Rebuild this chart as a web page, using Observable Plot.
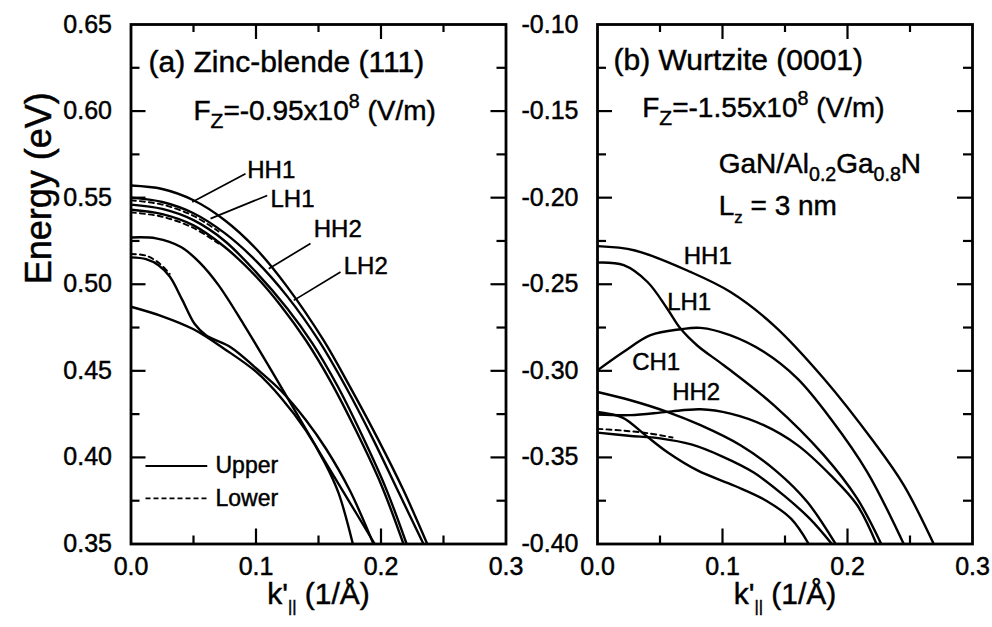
<!DOCTYPE html>
<html>
<head>
<meta charset="utf-8">
<script src="https://cdn.jsdelivr.net/npm/d3@7"></script>
<script src="https://cdn.jsdelivr.net/npm/@observablehq/plot@0.6"></script>
<style>
  html, body { margin: 0; padding: 0; background: #fff; }
  #chart { position: relative; width: 992px; height: 627px; overflow: hidden; }
  #chart svg { position: absolute; top: 0; overflow: visible; background: transparent; }
  /* slightly heavier glyphs, like a printed figure */
  #chart svg text { stroke: black; stroke-width: 0.45px; }
</style>
</head>
<body>
<div id="chart"></div>
<script>
// ---- Valence subband dispersions, [k'|| (1/Å), energy (eV)] ----

// (a) zinc-blende (111), Fz = -0.95e8 V/m
const zbHH1 = [[0,0.557],[0.025,0.555],[0.05,0.5485],[0.075,0.537],[0.1,0.5205],[0.125,0.4985],[0.154,0.4677],[0.175,0.441],[0.198,0.41],[0.218,0.381],[0.237,0.35]];
const zbLH1 = [[0,0.550],[0.025,0.5475],[0.05,0.541],[0.075,0.5295],[0.1,0.5135],[0.125,0.493],[0.15,0.4677],[0.172,0.4405],[0.194,0.41],[0.214,0.38],[0.234,0.35]];
const zbHH2 = [[0,0.546],[0.025,0.5435],[0.05,0.537],[0.075,0.525],[0.1,0.507],[0.125,0.486],[0.145,0.466],[0.165,0.4415],[0.185,0.4125],[0.204,0.382],[0.2205,0.35]];
const zbLH2 = [[0,0.543],[0.025,0.5405],[0.05,0.534],[0.075,0.5215],[0.1,0.5045],[0.12,0.4875],[0.14,0.4675],[0.16,0.4435],[0.18,0.4155],[0.2,0.3845],[0.218,0.35]];
const zbBand5 = [[0,0.527],[0.02,0.5265],[0.04,0.5215],[0.055,0.5125],[0.07,0.4995],[0.09,0.477],[0.11,0.453],[0.13,0.4285],[0.15,0.404],[0.17,0.38],[0.195,0.35]];
const zbBand6 = [[0,0.5155],[0.012,0.5145],[0.022,0.511],[0.031,0.5045],[0.041,0.491],[0.051,0.477],[0.06,0.4705],[0.08,0.4635],[0.1,0.4515],[0.12,0.4385],[0.14,0.4215],[0.156,0.405],[0.175,0.381],[0.194,0.35]];
const zbBand7 = [[0,0.487],[0.025,0.4815],[0.05,0.474],[0.075,0.4625],[0.1,0.4495],[0.12,0.4345],[0.14,0.4155],[0.155,0.397],[0.166,0.3795],[0.1775,0.35]];
const zbLower1 = [[0,0.5485],[0.025,0.546],[0.05,0.5395],[0.07,0.5305]];
const zbLower2 = [[0,0.5415],[0.025,0.539],[0.05,0.5325],[0.07,0.5235]];
const zbLower3 = [[0,0.5175],[0.012,0.5165],[0.022,0.5125],[0.031,0.506]];

// (b) wurtzite (0001), Fz = -1.55e8 V/m
const wzHH1 = [[0,-0.228],[0.03,-0.2305],[0.0744,-0.2429],[0.1064,-0.2545],[0.141,-0.2737],[0.181,-0.3044],[0.221,-0.341],[0.245,-0.366],[0.269,-0.40]];
const wzLH1 = [[0,-0.2375],[0.021,-0.239],[0.04,-0.2487],[0.0557,-0.264],[0.0664,-0.2756],[0.08,-0.2855],[0.101,-0.2968],[0.141,-0.3198],[0.181,-0.3487],[0.2077,-0.3737],[0.227,-0.40]];
const wzCH1 = [[0,-0.2997],[0.021,-0.289],[0.0424,-0.2794],[0.0664,-0.276],[0.0824,-0.2752],[0.106,-0.2794],[0.133,-0.289],[0.16,-0.3045],[0.1864,-0.3275],[0.2157,-0.3583],[0.245,-0.40]];
const wzHH2 = [[0,-0.3252],[0.0264,-0.3256],[0.0557,-0.3237],[0.0824,-0.3222],[0.1064,-0.3247],[0.133,-0.3314],[0.16,-0.3429],[0.1864,-0.3602],[0.2077,-0.3775],[0.2232,-0.40]];
const wzBand5 = [[0,-0.3122],[0.0264,-0.317],[0.0557,-0.3237],[0.0824,-0.3314],[0.1144,-0.343],[0.1437,-0.3583],[0.1677,-0.3756],[0.1905,-0.40]];
const wzBand6 = [[0,-0.3237],[0.02,-0.327],[0.038,-0.337],[0.056,-0.347],[0.08,-0.3575],[0.11,-0.3665],[0.135,-0.375],[0.155,-0.3855],[0.169,-0.40]];
const wzBand7 = [[0,-0.3357],[0.025,-0.3375],[0.05,-0.339],[0.075,-0.3425],[0.1,-0.3495],[0.125,-0.3587],[0.15,-0.3725],[0.17,-0.3855],[0.1875,-0.40]];
const wzLower1 = [[0,-0.3335],[0.02,-0.3345],[0.04,-0.336],[0.06,-0.3385]];

// ---- Axes ----
const kDomain = [0, 0.3];
const kTicks = [0, 0.05, 0.1, 0.15, 0.2, 0.25, 0.3];
const kTickLabels = [0, 0.1, 0.2, 0.3];
const zbDomain = [0.35, 0.65];
const zbTicks = [0.35, 0.375, 0.4, 0.425, 0.45, 0.475, 0.5, 0.525, 0.55, 0.575, 0.6, 0.625, 0.65];
const zbTickLabels = [0.35, 0.4, 0.45, 0.5, 0.55, 0.6, 0.65];
const wzDomain = [-0.4, -0.1];
const wzTicks = [-0.4, -0.375, -0.35, -0.325, -0.3, -0.275, -0.25, -0.225, -0.2, -0.175, -0.15, -0.125, -0.1];
const wzTickLabels = [-0.4, -0.35, -0.3, -0.25, -0.2, -0.15, -0.1];

// ---- Annotations (segments: [text, "sub"|"sup", relative size]) ----
const xTitleSegs = [["k'"], ["||", "sub", 0.55], [" (1/Å)"]];
const yTitle = "Energy (eV)";
const zbNotes = [
  {k: 0.014, E: 0.628, size: 30, segs: [["(a) Zinc-blende (111)"]]},
  {k: 0.05, E: 0.5998, size: 28, segs: [["F"], ["Z", "sub", 0.75], ["=-0.95x10"], ["8", "sup", 0.7], [" (V/m)"]]}
];
const wzNotes = [
  {k: 0.0128, E: -0.121, size: 30, segs: [["(b) Wurtzite (0001)"]]},
  {k: 0.0358, E: -0.1483, size: 28, segs: [["F"], ["Z", "sub", 0.75], ["=-1.55x10"], ["8", "sup", 0.7], [" (V/m)"]]},
  {k: 0.097, E: -0.1808, size: 28, segs: [["GaN/Al"], ["0.2", "sub", 0.7], ["Ga"], ["0.8", "sub", 0.7], ["N"]]},
  {k: 0.097, E: -0.205, size: 28, segs: [["L"], ["z", "sub", 0.6], [" = 3 nm"]]}
];
const zbBandLabels = [
  {name: "HH1", k: 0.093, E: 0.5656},
  {name: "LH1", k: 0.1116, E: 0.549},
  {name: "HH2", k: 0.1462, E: 0.5317},
  {name: "LH2", k: 0.1702, E: 0.5106}
];
const zbLeaders = [
  {k1: 0.0916, E1: 0.5638, k2: 0.049, E2: 0.5475},
  {k1: 0.109, E1: 0.5513, k2: 0.0636, E2: 0.5379},
  {k1: 0.1436, E1: 0.5235, k2: 0.1102, E2: 0.509},
  {k1: 0.1676, E1: 0.5071, k2: 0.1302, E2: 0.4907}
];
const wzBandLabels = [
  {name: "HH1", k: 0.069, E: -0.2336},
  {name: "LH1", k: 0.0557, E: -0.2606},
  {name: "CH1", k: 0.0277, E: -0.2952},
  {name: "HH2", k: 0.0597, E: -0.3125}
];
const legendItems = [
  {label: "Upper", E: 0.395, dashed: false},
  {label: "Lower", E: 0.3763, dashed: true}
];
const legendSpan = {k1: 0.0116, k2: 0.061, kText: 0.0676};

// ---- Rendering ----
const H = 627, MT = 24, MB = 83.5;
const FONT = "'Liberation Sans', Arial, Helvetica, sans-serif";
const richText = new Map();
const plain = segs => segs.map(s => s[0]).join("");
richText.set(plain(xTitleSegs), xTitleSegs);
for (const n of [...zbNotes, ...wzNotes]) { n.text = plain(n.segs); richText.set(n.text, n.segs); }

function toRows(bands) {
  return bands.flatMap(b => b.pts.map(([k, E]) => ({band: b.name, dashed: !!b.dashed, k, E})));
}

function drawPanel(cfg) {
  const innerW = cfg.width - cfg.marginLeft - cfg.marginRight;
  const innerH = H - MT - MB;
  const [k0, k1] = kDomain, [e0, e1] = cfg.eDomain;
  const kPerPx = (k1 - k0) / innerW, ePerPx = (e1 - e0) / innerH;
  const isMajor = (v, step) => Math.abs(v / step - Math.round(v / step)) < 1e-6;
  const kTickRows = kTicks.filter(k => k > k0 && k < k1).map(k => ({k, len: (isMajor(k, 0.1) ? 15 : 8) * ePerPx}));
  const eTickRows = cfg.eTicks.filter(e => e > e0 + 1e-9 && e < e1 - 1e-9).map(e => ({e, len: (isMajor(e, 0.05) ? 15 : 9) * kPerPx}));
  const rows = toRows(cfg.bands);

  const marks = [
    Plot.line(rows.filter(d => !d.dashed), {x: "k", y: "E", z: "band", curve: "catmull-rom", stroke: "black", strokeWidth: 2.4, clip: true}),
    Plot.line(rows.filter(d => d.dashed), {x: "k", y: "E", z: "band", curve: "catmull-rom", stroke: "black", strokeWidth: 1.9, strokeDasharray: "5,4", clip: true}),
    Plot.ruleX(kTickRows, {x: "k", y1: e0, y2: d => e0 + d.len, stroke: "black", strokeWidth: 2.2}),
    Plot.ruleX(kTickRows, {x: "k", y1: e1, y2: d => e1 - d.len, stroke: "black", strokeWidth: 2.2}),
    Plot.ruleY(eTickRows, {y: "e", x1: k0, x2: d => k0 + d.len, stroke: "black", strokeWidth: 2.2}),
    Plot.ruleY(eTickRows, {y: "e", x1: k1, x2: d => k1 - d.len, stroke: "black", strokeWidth: 2.2}),
    Plot.frame({stroke: "black", strokeWidth: 2.8}),
    Plot.axisX(kTickLabels, {anchor: "bottom", tickSize: 0, tickPadding: 13, tickFormat: d => d.toFixed(1), fontSize: 25, label: null}),
    Plot.axisY(cfg.eTickLabels, {anchor: "left", tickSize: 0, tickPadding: 19, tickFormat: d => d.toFixed(2), fontSize: 25, label: null}),
    Plot.text([plain(xTitleSegs)], {frameAnchor: "bottom", dy: 60, fontSize: 30, text: d => d}),
    Plot.text(cfg.notes, {x: "k", y: "E", text: "text", fontSize: "size", textAnchor: "start"}),
    Plot.text(cfg.bandLabels, {x: "k", y: "E", text: "name", fontSize: 24, textAnchor: "start"})
  ];
  if (cfg.leaders) marks.push(Plot.link(cfg.leaders, {x1: "k1", y1: "E1", x2: "k2", y2: "E2", stroke: "black", strokeWidth: 1.7}));
  if (cfg.legend) {
    marks.push(
      Plot.link(cfg.legend.filter(d => !d.dashed), {x1: legendSpan.k1, x2: legendSpan.k2, y1: "E", y2: "E", stroke: "black", strokeWidth: 2}),
      Plot.link(cfg.legend.filter(d => d.dashed), {x1: legendSpan.k1, x2: legendSpan.k2, y1: "E", y2: "E", stroke: "black", strokeWidth: 1.8, strokeDasharray: "5,3"}),
      Plot.text(cfg.legend, {x: legendSpan.kText, y: "E", text: "label", fontSize: 23, textAnchor: "start"})
    );
  }
  if (cfg.yTitle) marks.push(Plot.text([cfg.yTitle], {frameAnchor: "left", dx: -92, rotate: -90, fontSize: 36, text: d => d}));

  const svg = Plot.plot({
    width: cfg.width, height: H,
    marginLeft: cfg.marginLeft, marginRight: cfg.marginRight, marginTop: MT, marginBottom: MB,
    x: {domain: kDomain}, y: {domain: cfg.eDomain},
    style: {fontFamily: FONT, color: "black", background: "transparent", overflow: "visible"},
    marks
  });
  svg.style.left = cfg.left + "px";
  document.getElementById("chart").appendChild(svg);
  applyRichText(svg);
}

// Rebuild annotated strings with subscript / superscript tspans
function applyRichText(svg) {
  const ns = "http://www.w3.org/2000/svg";
  svg.querySelectorAll("text").forEach(el => {
    const segs = richText.get(el.textContent);
    if (!segs || segs.length < 2) return;
    const base = parseFloat(getComputedStyle(el).fontSize);
    el.textContent = "";
    let shift = 0;
    for (const [t, kind, scale] of segs) {
      const target = kind === "sub" ? base * 0.28 : kind === "sup" ? -base * 0.45 : 0;
      const span = document.createElementNS(ns, "tspan");
      if (target - shift !== 0) span.setAttribute("dy", target - shift);
      shift = target;
      if (kind) span.setAttribute("font-size", base * (scale || 0.7));
      span.textContent = t;
      el.appendChild(span);
    }
  });
}

drawPanel({
  left: 0, width: 510, marginLeft: 130.5, marginRight: 4.5,
  eDomain: zbDomain, eTicks: zbTicks, eTickLabels: zbTickLabels,
  bands: [
    {name: "HH1", pts: zbHH1}, {name: "LH1", pts: zbLH1}, {name: "HH2", pts: zbHH2}, {name: "LH2", pts: zbLH2},
    {name: "b5", pts: zbBand5}, {name: "b6", pts: zbBand6}, {name: "b7", pts: zbBand7},
    {name: "l1", pts: zbLower1, dashed: true}, {name: "l2", pts: zbLower2, dashed: true}, {name: "l3", pts: zbLower3, dashed: true}
  ],
  notes: zbNotes, bandLabels: zbBandLabels, leaders: zbLeaders, legend: legendItems, yTitle
});

drawPanel({
  left: 510, width: 482, marginLeft: 87, marginRight: 20,
  eDomain: wzDomain, eTicks: wzTicks, eTickLabels: wzTickLabels,
  bands: [
    {name: "HH1", pts: wzHH1}, {name: "LH1", pts: wzLH1}, {name: "CH1", pts: wzCH1}, {name: "HH2", pts: wzHH2},
    {name: "b5", pts: wzBand5}, {name: "b6", pts: wzBand6}, {name: "b7", pts: wzBand7},
    {name: "l1", pts: wzLower1, dashed: true}
  ],
  notes: wzNotes, bandLabels: wzBandLabels
});
</script>
</body>
</html>
